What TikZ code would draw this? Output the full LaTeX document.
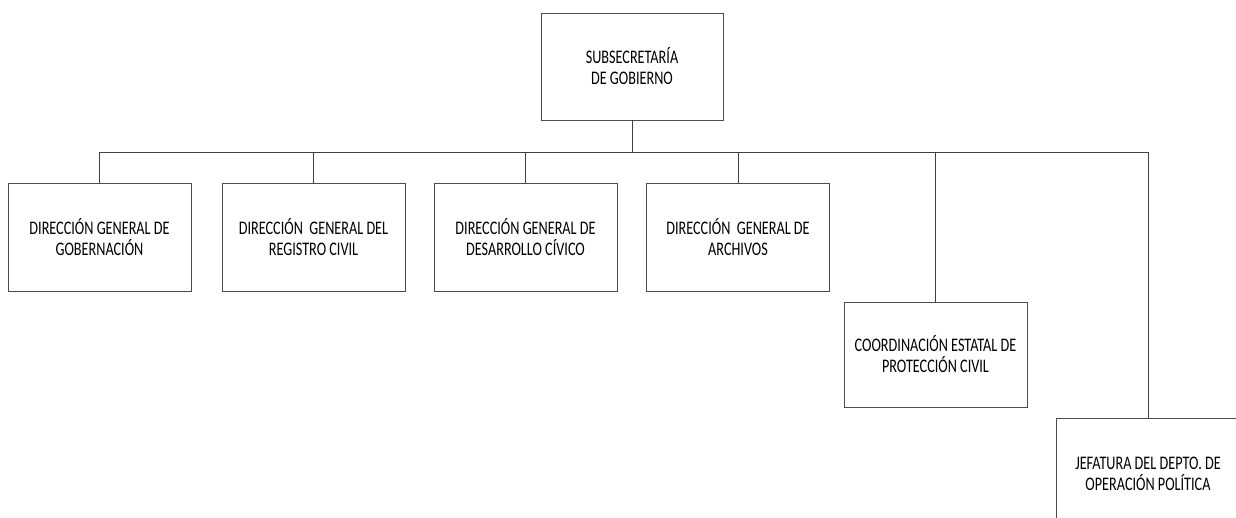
\documentclass[tikz,border=0pt]{standalone}
\usepackage{fontspec}
\setmainfont[FakeStretch=0.74]{Carlito}
\usepackage{tikz}
\usetikzlibrary{calc}
\tikzstyle{unit}=[draw=black!70, line width=0.8pt, fill=white, align=center,
  minimum width=183pt, minimum height=108pt, inner sep=2pt,
  font=\fontsize{19.2}{21}\selectfont]
\tikzstyle{link}=[draw=black!75, line width=0.8pt]
\newcommand{\busY}{152}

\begin{document}
\begin{tikzpicture}[x=1pt,y=-1pt]
\useasboundingbox (0,0) rectangle (1236,518);
\coordinate (bus) at (0,\busY);
% cabeza
\node[unit, minimum width=182pt, minimum height=107pt] (sub) at (632,66.5) {SUBSECRETARÍA\\DE GOBIERNO};
% direcciones
\node[unit] (gob) at (99.5,237.5) {DIRECCIÓN GENERAL DE\\GOBERNACIÓN};
\node[unit] (reg) at (313.5,237.5) {DIRECCIÓN\ \ GENERAL DEL\\REGISTRO CIVIL};
\node[unit] (civ) at (525.5,237.5) {DIRECCIÓN GENERAL DE\\DESARROLLO CÍVICO};
\node[unit] (arc) at (738,237.5) {DIRECCIÓN\ \ GENERAL DE\\ARCHIVOS};
\node[unit, minimum height=105pt] (pc) at (935.5,354.5) {COORDINACIÓN ESTATAL DE\\PROTECCIÓN CIVIL};
\node[unit, minimum height=112pt] (op) at (1148,474) {JEFATURA DEL DEPTO. DE\\OPERACIÓN POLÍTICA};
% lineas
\draw[link] (sub.south) -- (sub.south |- bus);
\draw[link] (gob.north |- bus) -- (op.north |- bus);
\foreach \n in {gob,reg,civ,arc,pc,op} {
	\draw[link] (\n.north |- bus) -- (\n.north);
}
\end{tikzpicture}
\end{document}
